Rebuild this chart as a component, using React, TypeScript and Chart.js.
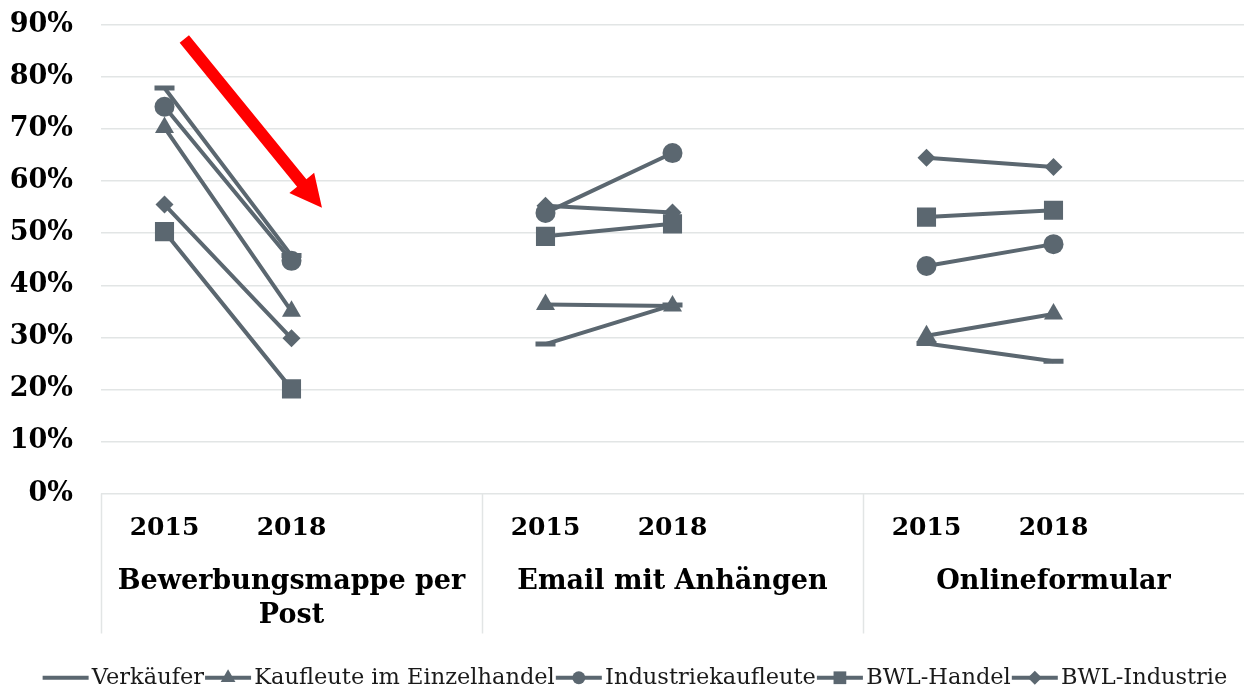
import React, { useEffect, useRef } from 'react';
import { Chart, registerables } from 'chart.js';

Chart.register(...registerables);

// ---- data ----
const YEAR_LABELS = ['2015', '2018', '', '2015', '2018', '', '2015', '2018', ''];
const GROUP_LABELS: (string | string[])[] = [['Bewerbungsmappe per', 'Post'], 'Email mit Anhängen', 'Onlineformular'];
const SERIES_NAMES = ['Verkäufer', 'Kaufleute im Einzelhandel', 'Industriekaufleute', 'BWL-Handel', 'BWL-Industrie'];
const VERKAEUFER = [77.9, 45.7, null, 28.7, 36.2, null, 28.8, 25.4, null];
const KAUFLEUTE_EINZELHANDEL = [70.3, 35.0, null, 36.3, 36.0, null, 30.3, 34.5, null];
const INDUSTRIEKAUFLEUTE = [74.3, 44.7, null, 53.9, 65.4, null, 43.7, 47.9, null];
const BWL_HANDEL = [50.3, 20.1, null, 49.4, 51.8, null, 53.1, 54.4, null];
const BWL_INDUSTRIE = [55.5, 29.8, null, 55.3, 54.0, null, 64.5, 62.7, null];
const Y_MAX = 90;
const Y_STEP = 10;
// red arrow in data space: [category position, value %]
const ARROW_FROM = [0.156, 87.3];
const ARROW_TO = [1.24, 54.9];

// ---- styles ----
const SERIES_COLOR = '#5b6770';
const GRID_COLOR = '#e2e5e5';
const CLEAR = 'rgba(0,0,0,0)';
const FONT_FAMILY = '"DejaVu Serif", Georgia, serif';
const POINT_STYLES = ['line', 'triangle', 'circle', 'rect', 'rectRot'];
const POINT_RADII = [10, 11, 10, 13.5, 9];
const LEGEND_RADII = [10, 8.5, 6.5, 9, 7];
const DIVIDER_LENGTH = 140;
const LEGEND_SHIFT = 14;

function drawMarker(ctx: CanvasRenderingContext2D, style: string, x: number, y: number, r: number) {
  ctx.beginPath();
  if (style === 'circle') {
    ctx.arc(x, y, r, 0, Math.PI * 2);
    ctx.fill();
  } else if (style === 'triangle') {
    ctx.moveTo(x, y - r);
    ctx.lineTo(x + r * Math.cos(Math.PI / 6), y + r / 2);
    ctx.lineTo(x - r * Math.cos(Math.PI / 6), y + r / 2);
    ctx.closePath();
    ctx.fill();
  } else if (style === 'rect') {
    const s = r * Math.SQRT1_2;
    ctx.rect(x - s, y - s, 2 * s, 2 * s);
    ctx.fill();
  } else if (style === 'rectRot') {
    ctx.moveTo(x, y - r);
    ctx.lineTo(x + r, y);
    ctx.lineTo(x, y + r);
    ctx.lineTo(x - r, y);
    ctx.closePath();
    ctx.fill();
  }
}

const overlayPlugin = {
  id: 'overlay',
  afterLayout(chart: any) {
    if (chart.legend) {
      chart.legend.left += LEGEND_SHIFT;
      chart.legend.right += LEGEND_SHIFT;
    }
  },
  afterDraw(chart: any) {
    const ctx: CanvasRenderingContext2D = chart.ctx;
    const xs = chart.scales.x;
    const ys = chart.scales.y;
    const area = chart.chartArea;
    ctx.save();
    // group dividers
    const half = (xs.getPixelForValue(1) - xs.getPixelForValue(0)) / 2;
    ctx.strokeStyle = GRID_COLOR;
    ctx.lineWidth = 1.5;
    for (let g = 0; g < GROUP_LABELS.length; g++) {
      const px = Math.round(xs.getPixelForValue(g * 3) - half) + 0.5;
      ctx.beginPath();
      ctx.moveTo(px, area.bottom);
      ctx.lineTo(px, area.bottom + DIVIDER_LENGTH);
      ctx.stroke();
    }
    // red arrow
    const ax0 = xs.getPixelForValue(ARROW_FROM[0]);
    const ay0 = ys.getPixelForValue(ARROW_FROM[1]);
    const ax1 = xs.getPixelForValue(ARROW_TO[0]);
    const ay1 = ys.getPixelForValue(ARROW_TO[1]);
    const len = Math.hypot(ax1 - ax0, ay1 - ay0);
    const ux = (ax1 - ax0) / len;
    const uy = (ay1 - ay0) / len;
    const px = -uy;
    const py = ux;
    const shaftHalf = 6;
    const headHalf = 16;
    const headLen = 32;
    const bx = ax1 - ux * headLen;
    const by = ay1 - uy * headLen;
    ctx.fillStyle = '#ff0000';
    ctx.beginPath();
    ctx.moveTo(ax0 + px * shaftHalf, ay0 + py * shaftHalf);
    ctx.lineTo(bx + px * shaftHalf, by + py * shaftHalf);
    ctx.lineTo(bx + px * headHalf, by + py * headHalf);
    ctx.lineTo(ax1, ay1);
    ctx.lineTo(bx - px * headHalf, by - py * headHalf);
    ctx.lineTo(bx - px * shaftHalf, by - py * shaftHalf);
    ctx.lineTo(ax0 - px * shaftHalf, ay0 - py * shaftHalf);
    ctx.closePath();
    ctx.fill();
    // legend symbols (line + marker)
    const legend = chart.legend;
    const boxW = legend.options.labels.boxWidth;
    const fontSize = legend.options.labels.font.size;
    ctx.fillStyle = SERIES_COLOR;
    (legend.legendHitBoxes || []).forEach((hb: any, i: number) => {
      const cy = hb.top + fontSize / 2;
      const x0 = hb.left - 2;
      const x1 = hb.left + boxW + 8;
      ctx.fillRect(x0, cy - 2, x1 - x0, 4);
      const style = POINT_STYLES[i];
      if (style !== 'line') drawMarker(ctx, style, (x0 + x1) / 2, cy, LEGEND_RADII[i]);
    });
    ctx.restore();
  },
};

export default function App() {
  const canvasRef = useRef<HTMLCanvasElement | null>(null);

  useEffect(() => {
    document.body.style.margin = '0';
    document.body.style.overflow = 'hidden';
    document.documentElement.style.overflow = 'hidden';
    const canvas = canvasRef.current;
    if (!canvas) return;
    const seriesValues = [VERKAEUFER, KAUFLEUTE_EINZELHANDEL, INDUSTRIEKAUFLEUTE, BWL_HANDEL, BWL_INDUSTRIE];
    const datasets = SERIES_NAMES.map((name, i) => ({
      label: name,
      data: seriesValues[i],
      borderColor: SERIES_COLOR,
      backgroundColor: SERIES_COLOR,
      borderWidth: 4,
      pointStyle: POINT_STYLES[i],
      pointRadius: POINT_RADII[i],
      pointHoverRadius: POINT_RADII[i],
      pointBackgroundColor: SERIES_COLOR,
      pointBorderColor: SERIES_COLOR,
      pointBorderWidth: POINT_STYLES[i] === 'line' ? 5 : 0,
      spanGaps: false,
      tension: 0,
    }));
    const chart = new Chart(canvas, {
      type: 'line',
      data: { labels: YEAR_LABELS, datasets },
      plugins: [overlayPlugin],
      options: {
        animation: false,
        responsive: true,
        maintainAspectRatio: false,
        layout: { autoPadding: false, padding: { top: 25, bottom: -8, left: 0, right: 0 } },
        scales: {
          x: {
            type: 'category',
            position: 'bottom',
            weight: 0,
            offset: true,
            grid: { display: true, drawOnChartArea: false, drawTicks: true, tickLength: 20, color: CLEAR, tickColor: CLEAR },
            border: { display: false },
            ticks: {
              font: { family: FONT_FAMILY, size: 25, weight: 'bold' },
              color: '#000',
              padding: 0,
              maxRotation: 0,
              autoSkip: false,
            },
            afterFit: (s: any) => { s.height = 58; },
          },
          x2: {
            type: 'category',
            axis: 'x',
            position: 'bottom',
            weight: 1,
            labels: GROUP_LABELS as any,
            offset: true,
            grid: { display: true, drawOnChartArea: false, drawTicks: true, tickLength: 14, color: CLEAR, tickColor: CLEAR },
            border: { display: false },
            ticks: {
              font: { family: FONT_FAMILY, size: 27, weight: 'bold', lineHeight: 1.24 },
              color: '#000',
              padding: 0,
              maxRotation: 0,
              autoSkip: false,
            },
            afterFit: (s: any) => { s.height = 112; },
          },
          y: {
            min: 0,
            max: Y_MAX,
            grid: { color: GRID_COLOR, lineWidth: 1.5, drawTicks: true, tickLength: 28, tickColor: CLEAR },
            border: { display: false },
            ticks: {
              stepSize: Y_STEP,
              font: { family: FONT_FAMILY, size: 27, weight: 'bold' },
              color: '#000',
              padding: 0,
              callback: (v: any) => `${v}%`,
            },
            afterFit: (s: any) => { s.width = 101; },
          },
        },
        plugins: {
          legend: {
            position: 'bottom',
            labels: {
              font: { family: FONT_FAMILY, size: 22.5 },
              color: '#1a1a1a',
              boxWidth: 36,
              boxHeight: 4,
              padding: 3,
              generateLabels: (c: any) =>
                Chart.defaults.plugins.legend.labels.generateLabels(c).map((l: any) => ({
                  ...l,
                  lineWidth: 0,
                  fillStyle: CLEAR,
                  strokeStyle: CLEAR,
                })),
            },
          },
          tooltip: { enabled: false },
        },
      },
    });
    return () => chart.destroy();
  }, []);

  return (
    <div style={{ position: 'fixed', left: 0, top: 0, width: 1244, height: 691, background: '#fff' }}>
      <canvas ref={canvasRef} />
    </div>
  );
}
